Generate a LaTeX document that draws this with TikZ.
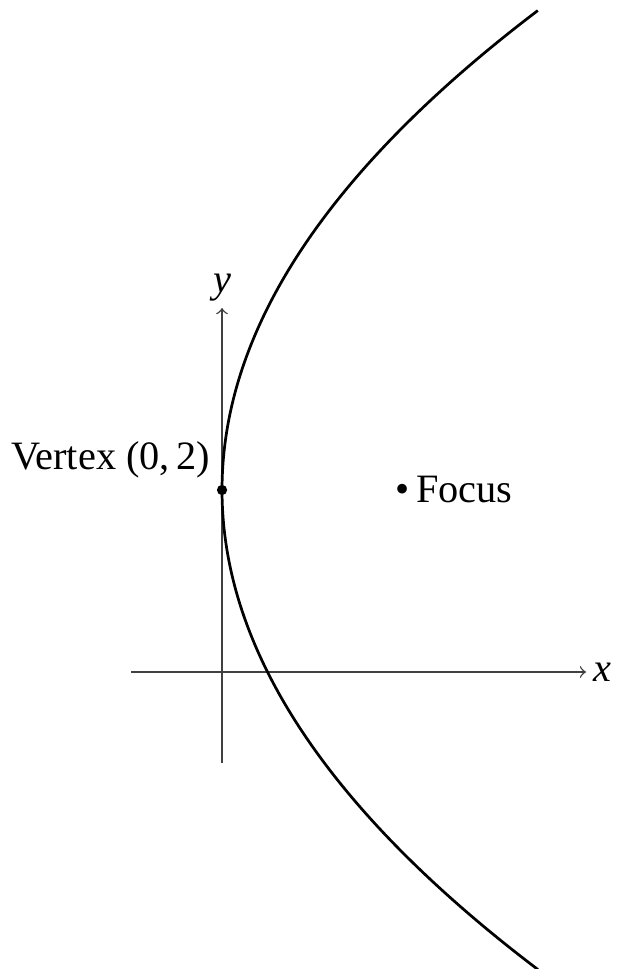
\documentclass[tikz,border=0pt]{standalone}
\usepackage{fontspec}
\setmainfont{Liberation Serif}
\begin{document}
\begin{tikzpicture}[x=1cm,y=1cm,
  axis/.style={draw=black!75,line width=0.45pt,->},
  curve/.style={draw=black,line width=0.85pt},
  lbl/.style={font=\fontsize{12.6}{14}\selectfont,inner sep=2pt}]
\useasboundingbox (-2.44,-3.264) rectangle (4.33,7.385);
% axes
\coordinate (xs) at (-1,0);
\coordinate (xe) at (4,0);
\coordinate (ys) at (0,-1);
\coordinate (ye) at (0,4);
\draw[axis] (xs) -- (xe) node[lbl,right] (xl) {\itshape x};
\draw[axis] (ys) -- (ye) node[lbl,above] (yl) {\itshape y};
% parabola (y-2)^2 = 8x
\draw[curve] plot[domain=-5.27:5.27,samples=120,smooth,variable=\t] ({(\t)*(\t)/8},{\t+2});
% vertex
\coordinate (V) at (0,2);
\fill (V) circle (1.6pt);
\node[lbl,above left,inner sep=3.5pt] (vl) at (V) {Vertex (0,\,2)};
% focus
\node[lbl,anchor=west] (F) at (1.83,2) {\textbullet\,Focus};
\end{tikzpicture}
\end{document}
